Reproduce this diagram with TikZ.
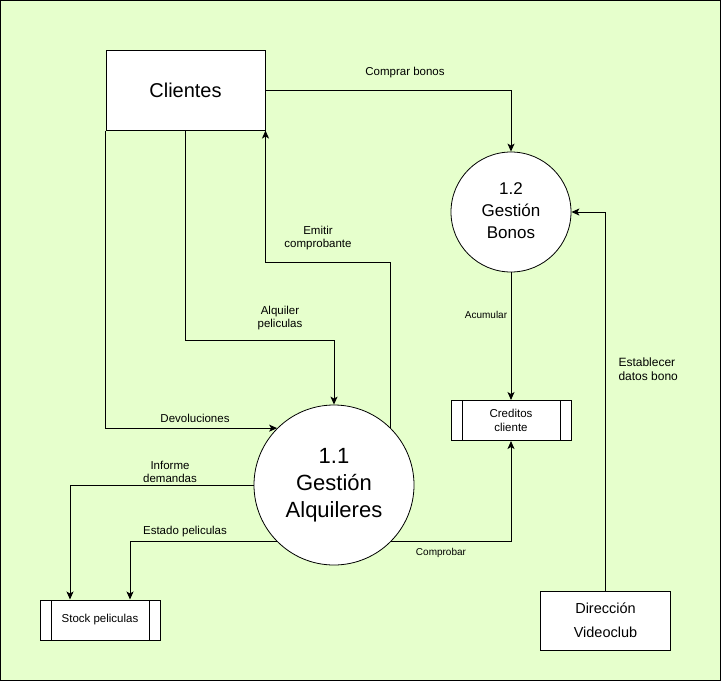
\documentclass[tikz,border=0pt]{standalone}
\usepackage{fontspec}
\setmainfont{Liberation Sans}
\usetikzlibrary{arrows.meta}
\definecolor{fondo}{HTML}{E6FFCC}

\begin{document}
\begin{tikzpicture}[x=1pt,y=-1pt,line width=1pt,
  entidad/.style={draw,fill=white},
  proceso/.style={draw,circle,fill=white,line width=0.8pt},
  almacen/.style={draw,fill=white,minimum width=120pt,minimum height=40pt,
    font=\fontsize{11.5}{14}\selectfont,
    path picture={\draw ([xshift=11pt]path picture bounding box.north west) -- ([xshift=11pt]path picture bounding box.south west)
      ([xshift=-11pt]path picture bounding box.north east) -- ([xshift=-11pt]path picture bounding box.south east);}},
  flujo/.style={-{Stealth[length=8pt,width=7pt,inset=2pt]}},
  etiq/.style={font=\fontsize{11.5}{13}\selectfont,align=center}]
\tikzstyle{every node}+=[inner sep=0pt]
\useasboundingbox (0,0) rectangle (721,681);
\draw [black,fill=fondo] (0.5,0.5) rectangle (720.5,680.5);
\node [entidad,minimum width=159pt,minimum height=80pt,font=\fontsize{20}{24}\selectfont] (cli) at (185.5,90) {Clientes};
\node [entidad,minimum width=130pt,minimum height=59pt,align=center,font=\fontsize{14.5}{24}\selectfont] (dir) at (605.5,620.5) {Dirección\\Videoclub};
\node [proceso,minimum size=120pt,align=center,font=\fontsize{17}{22}\selectfont,text depth=2pt] (bon) at (511,212) {1.2\\Gestión\\Bonos};
\node [proceso,minimum size=160pt,align=center,font=\fontsize{22}{27}\selectfont] (alq) at (334,485) {1.1\\Gestión\\Alquileres};
\node [almacen,align=center] (cred) at (511,420.5) {Creditos\\cliente};
\node [almacen] (sto) at (100,620) {Stock peliculas};
\draw [black,flujo] (cli.east) -| (bon.north);
\draw (405,73) node [etiq] {Comprar bonos};
\draw [black,flujo] (bon.south) -- (cred.north);
\draw (486,315) node [etiq,font=\fontsize{10}{12}\selectfont] {Acumular};
\draw [black,flujo] (dir.north) |- (bon.east);
\draw (618,369) node [etiq,anchor=west,align=left,font=\fontsize{12}{14}\selectfont] {Establecer\\datos bono};
\draw [black,flujo] (alq.north east) -- (alq.north east |- 0,262) -| (cli.south east);
\draw (318,238.5) node [etiq] {Emitir\\comprobante};
\draw [black,flujo] (cli.south) -- (cli.south |- 0,340) -| (alq.north);
\draw (280,318.5) node [etiq] {Alquiler\\peliculas};
\draw [black,flujo] (cli.south west) |- (alq.north west);
\draw (195,418) node [etiq] {Devoluciones};
\draw [black,flujo] (alq.west) -| ([xshift=-30pt]sto.north);
\draw (170,471.5) node [etiq] {Informe\\demandas};
\draw [black,flujo] (alq.south west) -| ([xshift=30pt]sto.north);
\draw (185,532) node [etiq] {Estado peliculas};
\draw [black,flujo] (alq.south east) -| (cred.south);
\draw (441,553) node [etiq,font=\fontsize{10}{12}\selectfont] {Comprobar};
\end{tikzpicture}
\end{document}
